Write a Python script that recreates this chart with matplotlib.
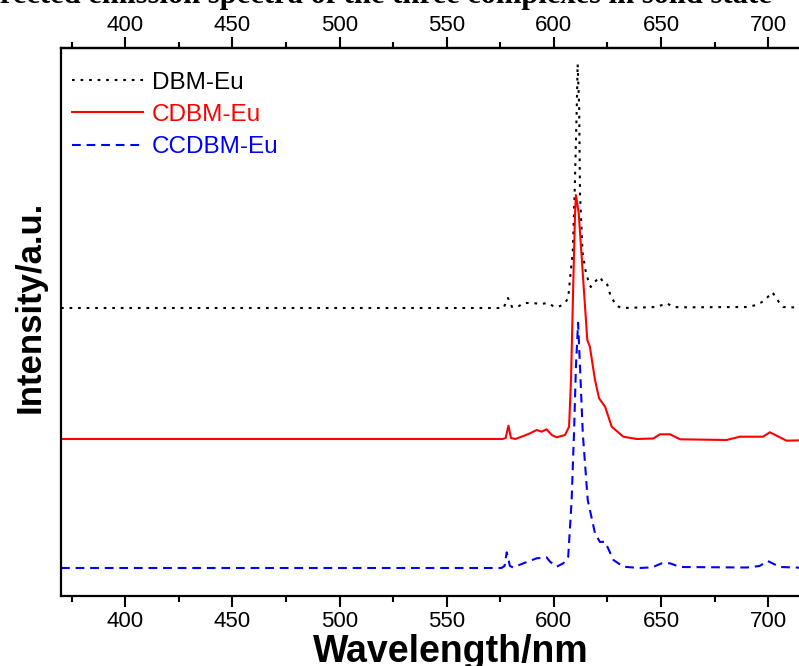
import matplotlib.pyplot as plt
import numpy as np

plt.rcParams['font.family'] = ['Liberation Sans', 'DejaVu Sans']

# emission spectra (curves are stacked, a.u.)
wl_dbm = [370, 576.5, 578.6, 580.5, 583, 586, 590, 594, 597, 600.5, 603, 605.5, 606.7,
          607.8, 608.8, 609.7, 610.7, 611.1, 611.8, 612.2, 613.4, 615.0, 616.0, 617.2,
          619.0, 621.5, 623.0, 624.7, 626.5, 629.3, 632, 648, 652.6, 656, 660, 690,
          694.6, 698, 702, 705, 707, 720]
int_dbm = [288, 288, 298, 289, 289, 293, 293, 292, 293, 289, 290, 294, 298,
           323, 343, 403, 489, 532, 489, 403, 343, 323, 316, 309,
           314, 319, 314, 313, 300, 290, 288, 289, 292.7, 289, 288.7, 289,
           291, 295, 303.7, 294, 289, 288]

wl_cdbm = [370, 576, 577.5, 578.8, 580.0, 582, 585.8, 588.9, 592.0, 594.3, 596.6, 599.0,
           601.3, 605.2, 607.1, 608.0, 609.1, 609.9, 610.3, 611.6, 613.7, 615.6, 616.8,
           619.2, 621.1, 623.9, 627.0, 632.4, 638.7, 646.4, 649.5, 654.2, 658.9, 680.6,
           686.8, 697.6, 700.8, 708.6, 720]
int_cdbm = [157, 157, 158, 170.3, 158, 157, 160, 162.7, 166, 164.3, 166.7, 161,
            158.7, 161, 169.3, 216, 316, 383, 401, 383, 316, 256, 249.3,
            216, 197.7, 189.3, 169.3, 159.3, 157, 157.5, 161.7, 161.7, 156.7, 156,
            159.3, 159.3, 163.7, 155.3, 156]

wl_ccdbm = [370, 575.5, 577, 578.0, 579.5, 581, 585.8, 592.0, 596.6, 598.2, 601.3, 604.4,
            606.7, 608.3, 609.4, 610.3, 611.3, 612.2, 613.5, 615.8, 619.2, 621.5, 623.9,
            627.8, 632.4, 640, 646, 650.3, 654.2, 658.9, 690, 696, 699.8, 705.5, 720]
int_ccdbm = [28, 28, 30, 43.7, 30, 28.5, 32.7, 37.7, 38.7, 34.3, 29.3, 32.7,
             39.3, 96, 162.7, 229.3, 273.3, 229.3, 162.7, 96, 62.7, 54, 54.3,
             36, 29.3, 28, 28.7, 32.7, 32.7, 29, 28.5, 30, 35, 29, 28]

labels = ['DBM-Eu', 'CDBM-Eu', 'CCDBM-Eu']
colors = ['black', 'red', 'blue']
major = np.arange(400, 701, 50)
minor = np.arange(375, 720, 25)

fig = plt.figure(figsize=(7.99, 6.66), dpi=100)
ax = fig.add_axes([61/799, 1 - 596/666, 750/799, 548/666])

ax.plot(wl_dbm, int_dbm, color=colors[0], linestyle=(0, (1.3, 2.8)), lw=1.5, label=labels[0])
ax.plot(wl_cdbm, int_cdbm, color=colors[1], linestyle='-', lw=1.5, label=labels[1])
ax.plot(wl_ccdbm, int_ccdbm, color=colors[2], linestyle=(0, (4.2, 2.8)), lw=1.5, label=labels[2])

ax.set_xlim(370, 720)
ax.set_ylim(0, 548)
ax.set_xticks(major)
ax.set_xticks(minor, minor=True)
ax.set_yticks([])
ax.tick_params(axis='x', which='both', direction='out', top=False,
               labelsize=16, width=1.5, pad=2.5)
ax.tick_params(axis='x', which='major', length=8)
ax.tick_params(axis='x', which='minor', length=4.5)
for s in ax.spines.values():
    s.set_linewidth(1.6)

# top axis with its own label spacing
top = ax.secondary_xaxis('top')
top.set_xticks(major)
top.set_xticks(minor, minor=True)
top.tick_params(axis='x', which='both', direction='out', labelsize=16, width=1.5, pad=0.5)
top.tick_params(axis='x', which='major', length=8)
top.tick_params(axis='x', which='minor', length=4.5)
top.spines['top'].set_linewidth(1.6)

ax.set_xlabel('Wavelength/nm', fontsize=27, fontweight='bold')
ax.xaxis.set_label_coords((451 - 61)/750, -38/548)
ax.set_ylabel('Intensity/a.u.', fontsize=25, fontweight='bold')
ax.yaxis.set_label_coords(-14/750, 0.5 + 15/548)

leg = ax.legend(loc='upper left', frameon=False, fontsize=17.5, handlelength=2.9,
                handletextpad=0.4, labelspacing=0.42, borderaxespad=0.3,
                bbox_to_anchor=(-0.008, 0.988))
for txt, c in zip(leg.get_texts(), colors):
    txt.set_color(c)

# cut-off caption at the very top
fig.text(-51/799, 1 - 2.5/666, 'Corrected emission spectra of the three complexes in solid state',
         fontsize=22, fontweight='bold', family='Liberation Serif', va='baseline', ha='left')

plt.savefig('out.png', dpi=100)
